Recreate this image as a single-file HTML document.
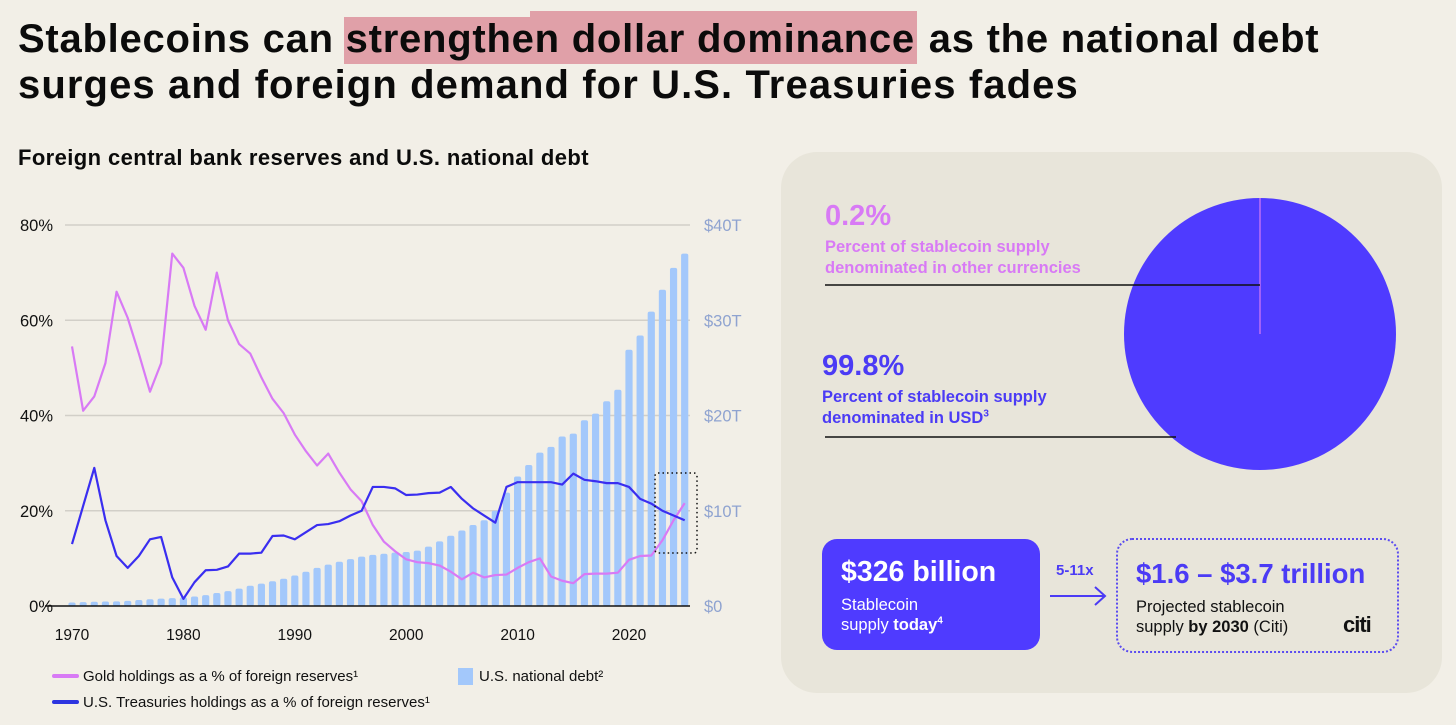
<!DOCTYPE html>
<html><head><meta charset="utf-8">
<style>
body{margin:0;width:1456px;height:725px;background:#f2efe7;font-family:"Liberation Sans",sans-serif;overflow:hidden;position:relative}
.abs{position:absolute}
h1{position:absolute;left:18px;top:16px;margin:0;font-size:40px;line-height:46px;font-weight:bold;color:#0b0b0b;letter-spacing:0.75px;white-space:nowrap}
.hl{background:#e0a0a8;position:relative;padding:0 2px 3px 0;margin-left:-2px;padding-left:2px}
.hl::before{content:"";position:absolute;left:186px;right:0;top:-6px;height:6px;background:#e0a0a8}
sup{line-height:0;vertical-align:super}
</style></head><body>
<h1>Stablecoins can <span class="hl">strengthen dollar dominance</span> as the national debt<br><span style="letter-spacing:1.1px">surges and foreign demand for U.S. Treasuries fades</span></h1>
<div class="abs" style="left:18px;top:145px;font-size:22px;font-weight:bold;color:#0b0b0b;letter-spacing:0.4px">Foreign central bank reserves and U.S. national debt</div>

<svg id="chart" class="abs" style="left:0;top:0" width="780" height="725"></svg>

<div class="abs" style="left:781px;top:152px;width:661px;height:541px;border-radius:36px;background:#e8e5da"></div>
<svg class="abs" style="left:0;top:0" width="1456" height="725">
  <circle cx="1260" cy="334" r="136" fill="#4f3bff"/>
  <line x1="1260" y1="198" x2="1260" y2="334" stroke="#d87af5" stroke-width="1.2"/>
  <line x1="825" y1="285" x2="1260" y2="285" stroke="#111" stroke-width="1.5"/>
  <line x1="825" y1="437" x2="1176" y2="437" stroke="#111" stroke-width="1.5"/>
</svg>
<div class="abs" style="left:825px;top:200px;font-size:29px;font-weight:bold;color:#d87af5">0.2%</div>
<div class="abs" style="left:825px;top:237px;font-size:16.5px;line-height:21px;font-weight:bold;color:#d87af5">Percent of stablecoin supply<br>denominated in other currencies</div>
<div class="abs" style="left:822px;top:350px;font-size:29px;font-weight:bold;color:#4b3bf5">99.8%</div>
<div class="abs" style="left:822px;top:387px;font-size:16.5px;line-height:21px;font-weight:bold;color:#4b3bf5">Percent of stablecoin supply<br>denominated in USD<sup style="font-size:10px">3</sup></div>

<div class="abs" style="left:822px;top:539px;width:218px;height:111px;border-radius:15px;background:#4f3bff;color:#fff">
  <div style="position:absolute;left:19px;top:17px;font-size:28.5px;font-weight:bold;white-space:nowrap">$326 billion</div>
  <div style="position:absolute;left:19px;top:56px;font-size:16.5px;line-height:20px">Stablecoin<br>supply <b>today</b><sup style="font-size:10px;font-weight:bold">4</sup></div>
</div>
<div class="abs" style="left:1056px;top:562px;font-size:15px;font-weight:bold;color:#4b3bf5">5-11x</div>
<svg class="abs" style="left:1048px;top:585px" width="62" height="22"><line x1="2" y1="11" x2="56" y2="11" stroke="#4b3bf5" stroke-width="2"/><polyline points="47,2 57,11 47,20" fill="none" stroke="#4b3bf5" stroke-width="2"/></svg>
<div class="abs" style="left:1116px;top:538px;width:279px;height:111px;border-radius:16px;border:2px dotted #5b4cf0">
  <div style="position:absolute;left:18px;top:18px;font-size:27.5px;font-weight:bold;color:#4b3bf5;white-space:nowrap">$1.6 – $3.7 trillion</div>
  <div style="position:absolute;left:18px;top:57px;font-size:16.5px;line-height:20px;color:#111;white-space:nowrap">Projected stablecoin<br>supply <b>by 2030</b> (Citi)</div>
  <div style="position:absolute;left:225px;top:72px;font-size:22px;font-weight:bold;color:#111;letter-spacing:-1px">citi</div>
</div>

<script>
const years = [];
for (let y = 1970; y <= 2025; y++) years.push(y);
const debt = [0.37,0.41,0.44,0.47,0.48,0.54,0.63,0.71,0.78,0.83,0.91,1.0,1.14,1.37,1.56,1.82,2.12,2.35,2.6,2.86,3.2,3.6,4.0,4.35,4.64,4.92,5.18,5.37,5.48,5.61,5.67,5.81,6.23,6.78,7.38,7.93,8.5,9.0,10.0,11.9,13.6,14.8,16.1,16.7,17.8,18.1,19.5,20.2,21.5,22.7,26.9,28.4,30.9,33.2,35.5,37.0];
const gold = [54.5,41,44,51,66,60.5,53,45,51,74,71,63,58,70,60,55,53,48,43.5,40.5,36,32.5,29.5,32,28,24.5,22,17,13.5,11.5,9.8,9.2,9,8.5,7.2,5.6,7,6,6.5,6.6,8,9.2,10,6.2,5.3,4.8,6.7,6.8,6.8,7,9.7,10.5,10.6,13.8,18,21.6];
const treas = [13,21,29,18,10.5,8,10.5,14,14.5,6,1.5,5,7.5,7.6,8.3,11,11,11.2,14.7,14.8,14,15.5,17,17.2,17.8,19,20,25,25,24.7,23.3,23.4,23.7,23.8,25,22.5,20.5,19,17.5,25,26,26,26,26,25.5,27.8,26.5,26.2,25.8,25.8,25,22.5,21.5,20,19,18];
const pctTicks = [0,20,40,60,80];
const debtTicks = [0,10,20,30,40];
const debtTickLabels = ["$0","$10T","$20T","$30T","$40T"];
const yearTicks = [1970,1980,1990,2000,2010,2020];

const NS = "http://www.w3.org/2000/svg";
const svg = document.getElementById("chart");
const xS = y => 72 + (y - 1970) * 11.14;
const yP = p => 606 - p * 4.7625;
const yD = d => 606 - d * 9.525;
function mk(tag, attrs, parent) {
  const el = document.createElementNS(NS, tag);
  for (const k in attrs) el.setAttribute(k, attrs[k]);
  (parent || svg).appendChild(el);
  return el;
}
pctTicks.forEach((p, i) => {
  if (p > 0) {
    const g = mk("line", {x1: 65, x2: 690, y1: yP(p), y2: yP(p), stroke: "#d2cfc8", "stroke-width": 1.5});
    
    
  }
  const t = mk("text", {x: 53, y: yP(p) + 6, "text-anchor": "end", "font-size": 16.5, fill: "#111"});
  t.textContent = p + "%";
  
  
});
debtTicks.forEach((d, i) => {
  const t = mk("text", {x: 704, y: yD(d) + 6, "font-size": 16.5, fill: "#8fa3d0"});
  t.textContent = debtTickLabels[i];
  
  
});
yearTicks.forEach(y => {
  const t = mk("text", {x: xS(y), y: 640, "text-anchor": "middle", "font-size": 15.5, fill: "#111"});
  t.textContent = y;
  
  
});
years.forEach((y, i) => {
  const top = yD(debt[i]);
  const b = mk("rect", {x: xS(y) - 3.6, y: top, width: 7.2, height: 606 - top, rx: 2, fill: "#a3c8fb"});
  
  
});
const base = mk("line", {x1: 45, x2: 690, y1: 606, y2: 606, stroke: "#111", "stroke-width": 1.5});


const gl = mk("polyline", {points: years.map((y, i) => xS(y) + "," + yP(gold[i])).join(" "), fill: "none", stroke: "#d87af5", "stroke-width": 2.2, "stroke-linejoin": "round"});


const tl = mk("polyline", {points: years.map((y, i) => xS(y) + "," + yP(treas[i])).join(" "), fill: "none", stroke: "#3a2ef0", "stroke-width": 2.2, "stroke-linejoin": "round"});


const box = mk("rect", {x: 655, y: 473, width: 42, height: 80, rx: 3, fill: "none", stroke: "#111", "stroke-width": 1.5, "stroke-dasharray": "1.5 3"});


const l1 = mk("line", {x1: 54, x2: 77, y1: 676, y2: 676, stroke: "#d87af5", "stroke-width": 4, "stroke-linecap": "round"});


const l2 = mk("line", {x1: 54, x2: 77, y1: 702, y2: 702, stroke: "#2d35e0", "stroke-width": 4, "stroke-linecap": "round"});


const l3 = mk("rect", {x: 458, y: 668, width: 15, height: 17, fill: "#a3c8fb"});


const texts = [[83, 681, "Gold holdings as a % of foreign reserves¹", 'legend-gold-label'], [83, 707, "U.S. Treasuries holdings as a % of foreign reserves¹", 'legend-treasuries-label'], [479, 681, "U.S. national debt²", 'legend-debt-label']];
texts.forEach(tt => {
  const t = mk("text", {x: tt[0], y: tt[1], "font-size": 15, fill: "#111"});
  t.textContent = tt[2];
  
  
});
</script>
</body></html>
